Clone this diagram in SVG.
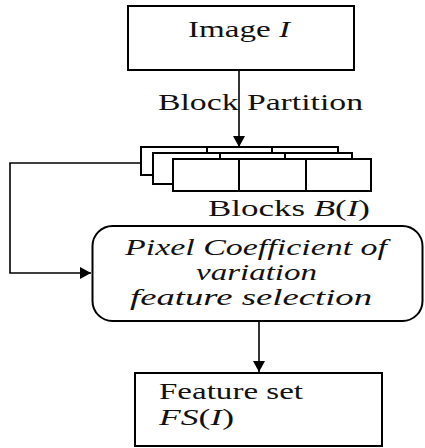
<svg xmlns="http://www.w3.org/2000/svg" width="425" height="448" viewBox="0 0 425 448">
  <defs>
    <marker id="arrow" markerWidth="12" markerHeight="12" refX="11" refY="6" orient="auto" markerUnits="userSpaceOnUse">
      <path d="M0,0 L11,6 L0,12 Z" fill="#000"/>
    </marker>
    <style>
      .box { fill: #fff; stroke: #000; stroke-width: 2; }
      .edge { fill: none; stroke: #000; stroke-width: 1.6; }
      .lbl { font-family: "Liberation Serif", "DejaVu Serif", "Times New Roman", serif; font-size: 24px; fill: #111; }
      .it { font-style: italic; }
    </style>
  </defs>
  <rect width="425" height="448" fill="#fff"/>

  <g id="image">
    <rect class="box" x="128" y="6" width="226" height="64"/>
    <text class="lbl" x="188" y="37" textLength="102" lengthAdjust="spacingAndGlyphs">Image <tspan class="it">I</tspan></text>
  </g>

  <g id="block-partition-label">
    <text class="lbl" x="158" y="110" textLength="205" lengthAdjust="spacingAndGlyphs">Block Partition</text>
  </g>

  <g id="blocks">
    <rect class="box" x="141" y="147" width="197" height="28"/>
    <line class="box" x1="207" y1="147" x2="207" y2="153"/>
    <line class="box" x1="272" y1="147" x2="272" y2="153"/>
    <rect class="box" x="153" y="153" width="199" height="31"/>
    <line class="box" x1="220" y1="153" x2="220" y2="159"/>
    <line class="box" x1="285" y1="153" x2="285" y2="159"/>
    <rect class="box" x="173" y="159" width="198" height="32"/>
    <line class="box" x1="239" y1="159" x2="239" y2="191"/>
    <line class="box" x1="306" y1="159" x2="306" y2="191"/>
    <text class="lbl" x="208" y="216" textLength="162" lengthAdjust="spacingAndGlyphs">Blocks <tspan class="it">B</tspan>(<tspan class="it">I</tspan>)</text>
  </g>

  <g id="selection">
    <rect class="box" x="92.5" y="226" width="330" height="95" rx="20" ry="20"/>
    <text class="lbl it" x="125" y="255" textLength="262" lengthAdjust="spacingAndGlyphs">Pixel Coefficient of</text>
    <text class="lbl it" x="196" y="280" textLength="121" lengthAdjust="spacingAndGlyphs">variation</text>
    <text class="lbl it" x="130" y="305" textLength="242" lengthAdjust="spacingAndGlyphs">feature selection</text>
  </g>

  <g id="feature-set">
    <rect class="box" x="135" y="373" width="247" height="73"/>
    <text class="lbl" x="159" y="399" textLength="144" lengthAdjust="spacingAndGlyphs">Feature set</text>
    <text class="lbl" x="159" y="425" textLength="75" lengthAdjust="spacingAndGlyphs"><tspan class="it">FS</tspan>(<tspan class="it">I</tspan>)</text>
  </g>

  <g id="connectors">
    <line class="edge" x1="239" y1="70" x2="239" y2="147" marker-end="url(#arrow)"/>
    <polyline class="edge" points="141,163 10,163 10,273 91,273" marker-end="url(#arrow)"/>
    <line class="edge" x1="259" y1="321" x2="259" y2="372" marker-end="url(#arrow)"/>
  </g>
</svg>
